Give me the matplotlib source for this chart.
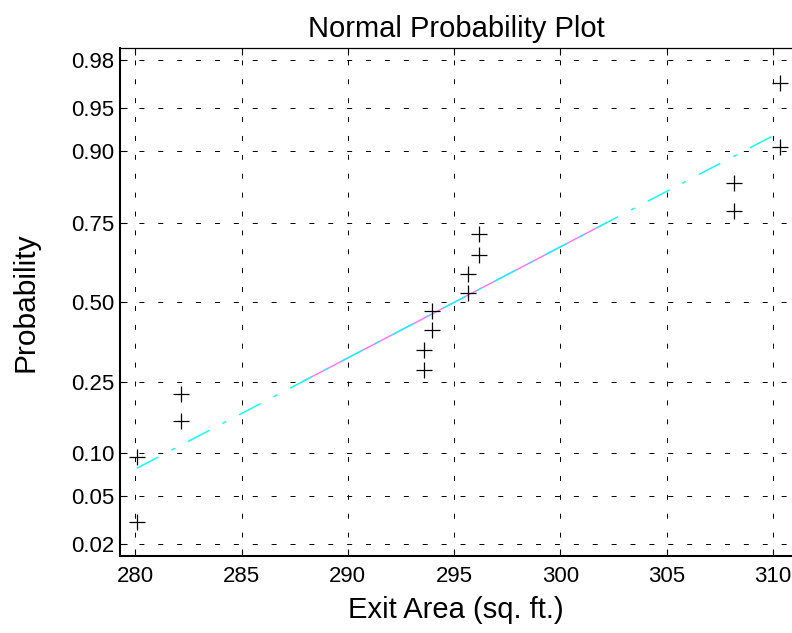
from statistics import NormalDist

import matplotlib
matplotlib.use("Agg")
import matplotlib.pyplot as plt
import numpy as np

plt.rcParams["font.family"] = ["Liberation Sans", "DejaVu Sans"]
plt.rcParams["lines.scale_dashes"] = False

# Exit area measurements, sorted (sq. ft.)
exit_area = [280.07, 280.07, 282.14, 282.14, 293.59, 293.59, 293.98, 293.98,
             295.64, 295.64, 296.17, 296.17, 308.19, 308.19, 310.34, 310.34]
# Plotting positions (i - 0.5) / n for n = 16
plot_prob = [0.03125, 0.09375, 0.15625, 0.21875, 0.28125, 0.34375, 0.40625, 0.46875,
             0.53125, 0.59375, 0.65625, 0.71875, 0.78125, 0.84375, 0.90625, 0.96875]
prob_ticks = [0.02, 0.05, 0.10, 0.25, 0.50, 0.75, 0.90, 0.95, 0.98]
prob_tick_labels = ["0.02", "0.05", "0.10", "0.25", "0.50", "0.75", "0.90", "0.95", "0.98"]
x_ticks = [280, 285, 290, 295, 300, 305, 310]

nd = NormalDist()
z = np.vectorize(nd.inv_cdf)

x = np.array(exit_area)
zy = z(np.array(plot_prob))

# Reference line through the first and third quartiles
xs = np.sort(x)
n = len(xs)
q1 = 0.5 * (xs[3] + xs[4])
q3 = 0.5 * (xs[11] + xs[12])
zq1, zq3 = nd.inv_cdf(0.25), nd.inv_cdf(0.75)
slope = (zq3 - zq1) / (q3 - q1)
line = lambda v: zq1 + slope * (np.asarray(v) - q1)

fig = plt.figure(figsize=(7.92, 6.33), dpi=100)
ax = fig.add_axes([120 / 792, 77 / 633, 672 / 792, 507.7 / 633])

ax.plot(x, zy, linestyle="none", marker="+", markersize=11.5,
        markeredgewidth=0.9, color="black", zorder=4)

ax.plot([q1, q3], line([q1, q3]), color="#ff70ff", linewidth=1.0, zorder=3)
ends = [xs.min(), xs.max()]
ax.plot(ends, line(ends), color="#00ffff", linewidth=1.0,
        linestyle=(0, (17.5, 10.5, 3.0, 10.5)), zorder=3)

ax.set_xlim(279.28, 310.90)
zlim = nd.inv_cdf(0.25 / n)
ax.set_ylim(zlim, -zlim)

ax.set_xticks(x_ticks)
ax.set_xticklabels([str(t) for t in x_ticks])
ax.set_yticks(z(np.array(prob_ticks)))
ax.set_yticklabels(prob_tick_labels)

ax.grid(True, color="black", linewidth=0.7, linestyle=(0, (3.6, 10.0)))
ax.set_axisbelow(True)

ax.tick_params(axis="both", direction="in", length=5, width=0.8,
               labelsize=16, top=True, right=False)
ax.tick_params(axis="x", pad=7)
ax.tick_params(axis="y", pad=4)

ax.spines["right"].set_visible(False)
ax.spines["left"].set_linewidth(1.5)
ax.spines["bottom"].set_linewidth(1.5)
ax.spines["top"].set_linewidth(0.9)

ax.set_title("Normal Probability Plot", fontsize=21, pad=8)
ax.set_xlabel("Exit Area (sq. ft.)", fontsize=21, labelpad=7)
ax.set_ylabel("Probability", fontsize=21.5, labelpad=23)

fig.savefig("out.png", dpi=100)
